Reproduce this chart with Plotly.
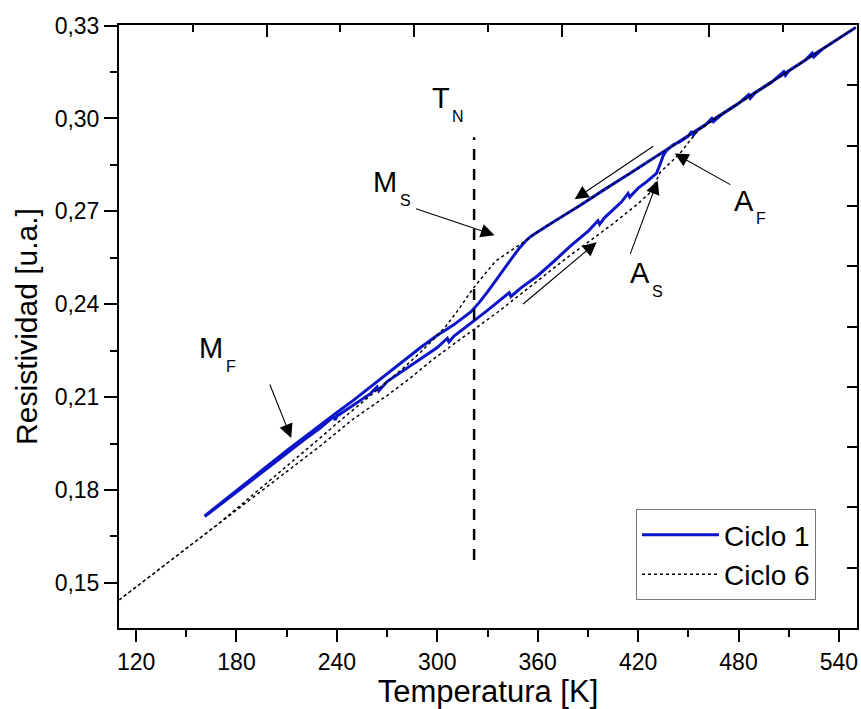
import plotly.graph_objects as go

# ---------------- data ----------------
# Ciclo 1 : heating branch (lower), then common part up to 550 K
c1_heat_T = [161, 170, 180, 190, 200, 210, 220, 230, 238, 239, 240, 250, 260, 264, 265, 270,
             280, 290, 300, 306, 307, 310, 321, 330, 343, 344, 350, 360, 370, 380, 390, 396,
             397, 400, 410, 414, 415, 420, 425, 431, 433, 435, 437, 441, 445, 450, 452, 453,
             455, 460, 464, 465, 470, 480, 486, 487, 490, 500, 507, 508, 510, 520,
             524, 525, 530, 540, 550]
c1_heat_R = [0.1714, 0.1752, 0.1794, 0.1836, 0.1877, 0.1918, 0.1960, 0.2000, 0.2037, 0.2026,
             0.2038, 0.2075, 0.2111, 0.2133, 0.2120, 0.2150, 0.2187, 0.2222, 0.2260, 0.2290,
             0.2278, 0.2297, 0.2342, 0.2380, 0.2437, 0.2425, 0.2453, 0.2492, 0.2540, 0.2590,
             0.2635, 0.2670, 0.2658, 0.2680, 0.2730, 0.2758, 0.2746, 0.2775, 0.2795, 0.2823,
             0.2850, 0.2880, 0.2897, 0.2915, 0.2925, 0.2943, 0.2958, 0.2946, 0.2960, 0.2978,
             0.3000, 0.2990, 0.3013, 0.3048, 0.3077, 0.3065, 0.3083, 0.3118, 0.3151,
             0.3139, 0.3153, 0.3189, 0.3211, 0.3199, 0.3224, 0.3259, 0.3294]
# Ciclo 1 : cooling branch (upper)
c1_cool_T = [550, 500, 445, 430, 415, 400, 385, 370, 361, 356, 353, 349, 345, 340, 335, 330,
             325, 320, 315, 310, 305, 300, 290, 280, 270, 260, 250, 240, 230, 220, 210, 200,
             190, 180, 170, 161]
c1_cool_R = [0.3294, 0.3118, 0.2925, 0.2874, 0.2822, 0.2771, 0.2718, 0.2668, 0.2638, 0.2620,
             0.2605, 0.2581, 0.2552, 0.2516, 0.2477, 0.2440, 0.2405, 0.2375, 0.2353, 0.2334,
             0.2317, 0.2300, 0.2260, 0.2217, 0.2174, 0.2132, 0.2090, 0.2050, 0.2010, 0.1970,
             0.1927, 0.1884, 0.1841, 0.1798, 0.1755, 0.1716]

# Ciclo 6 : heating branch
c6_heat_T = [110, 130, 150, 170, 190, 210, 230, 250, 270, 284, 297, 310, 323, 336, 349, 363,
             377, 390, 405, 420, 428, 433, 440, 445, 451, 456, 470, 490, 510, 530, 550]
c6_heat_R = [0.1445, 0.1528, 0.1611, 0.1694, 0.1777, 0.1860, 0.1942, 0.2030, 0.2105, 0.2162,
             0.2220, 0.2272, 0.2323, 0.2374, 0.2429, 0.2490, 0.2548, 0.2600, 0.2660, 0.2725,
             0.2765, 0.2825, 0.2860, 0.2887, 0.2929, 0.2962, 0.3013, 0.3083, 0.3153, 0.3224,
             0.3294]
# Ciclo 6 : cooling branch
c6_cool_T = [550, 500, 445, 430, 415, 400, 385, 370, 361, 353, 345, 335, 328, 321, 313, 305,
             298, 290, 280, 270, 260, 250, 240, 230, 220, 210, 200, 190, 180, 170, 150, 130, 110]
c6_cool_R = [0.3294, 0.3118, 0.2925, 0.2874, 0.2822, 0.2771, 0.2718, 0.2668, 0.2638, 0.2606,
             0.2576, 0.2540, 0.2495, 0.2448, 0.2385, 0.2328, 0.2288, 0.2245, 0.2195, 0.2150,
             0.2105, 0.2062, 0.2015, 0.1968, 0.1922, 0.1876, 0.1830, 0.1784, 0.1740, 0.1694,
             0.1611, 0.1528, 0.1445]

# Néel temperature marker
TN = 322
TN_R = [0.1574, 0.2939]

x_ticks = [120, 180, 240, 300, 360, 420, 480, 540]
x_labels = ["120", "180", "240", "300", "360", "420", "480", "540"]
x_minor = [150, 210, 270, 330, 390, 450, 510]
y_ticks = [0.15, 0.18, 0.21, 0.24, 0.27, 0.30, 0.33]
y_labels = ["0,15", "0,18", "0,21", "0,24", "0,27", "0,30", "0,33"]
y_minor = [0.165, 0.195, 0.225, 0.255, 0.285, 0.315]

series_names = ["Ciclo 1", "Ciclo 6"]

# ---------------- figure ----------------
FONT = "Arial, 'Liberation Sans', sans-serif"
BLUE = "rgb(12,22,200)"

fig = go.Figure()

fig.add_trace(go.Scatter(
    x=c1_heat_T + c1_cool_T, y=c1_heat_R + c1_cool_R, mode="lines",
    name=series_names[0], line=dict(color=BLUE, width=3)))
fig.add_trace(go.Scatter(
    x=c6_heat_T + c6_cool_T, y=c6_heat_R + c6_cool_R, mode="lines",
    name=series_names[1], line=dict(color="black", width=1.5, dash="dot")))
fig.add_trace(go.Scatter(
    x=[TN, TN], y=TN_R, mode="lines", showlegend=False,
    line=dict(color="black", width=2.5, dash="11px,9px")))
# empty trace to activate the decorative top/right axes
fig.add_trace(go.Scatter(x=[None], y=[None], xaxis="x2", yaxis="y2",
                         showlegend=False, hoverinfo="skip"))

# labels with subscripts: main letter (right edge x, centre y), subscript (left edge x, centre y)
labels = [
    ("T", "N", (307.9, 0.3066), (308.3, 0.3006)),
    ("M", "S", (276.8, 0.2794), (277.2, 0.2735)),
    ("M", "F", (172.6, 0.2258), (173.0, 0.2200)),
    ("A", "S", (427.5, 0.2502), (427.9, 0.2442)),
    ("A", "F", (489.7, 0.2732), (490.1, 0.2677)),
]
annotations = []
for main, sub, p1, p2 in labels:
    annotations.append(dict(x=p1[0], y=p1[1], text=main, showarrow=False, borderpad=0,
                            font=dict(family=FONT, size=29, color="black"),
                            xanchor="right", yanchor="middle"))
    annotations.append(dict(x=p2[0], y=p2[1], text=sub, showarrow=False, borderpad=0,
                            font=dict(family=FONT, size=16, color="black"),
                            xanchor="left", yanchor="middle"))

# arrows: head position (data) and tail offset (px)
arrows = [
    (334.2, 0.2623, -80, -27),
    (212.7, 0.1968, -22, -55),
    (431.7, 0.2800, -28, 75),
    (441.9, 0.2887, 57, 32),
    (382.1, 0.2739, 80, -54),
    (395.2, 0.2600, -75, 63),
]
for hx, hy, ax, ay in arrows:
    annotations.append(dict(x=hx, y=hy, ax=ax, ay=ay, text="", showarrow=True,
                            arrowhead=2, arrowsize=2.5, arrowwidth=1.1,
                            arrowcolor="black"))

fig.update_layout(
    width=861, height=709,
    margin=dict(l=119, r=4, t=25, b=81),
    paper_bgcolor="white", plot_bgcolor="white",
    separators=",.",
    font=dict(family=FONT, size=23, color="black"),
    showlegend=True,
    legend=dict(x=0.7005, y=0.1973, xanchor="left", yanchor="top",
                bgcolor="white", bordercolor="#777777", borderwidth=1,
                font=dict(family=FONT, size=28, color="black"),
                itemwidth=77, tracegroupgap=0),
    annotations=annotations,
    xaxis=dict(range=[109.8, 550.8], showgrid=False, zeroline=False,
               showline=True, linecolor="black", linewidth=2,
               ticks="outside", ticklen=12, tickwidth=2, tickcolor="black",
               tickmode="array", tickvals=x_ticks, ticktext=x_labels,
               tickfont=dict(size=23),
               minor=dict(tickmode="array", tickvals=x_minor, ticks="outside",
                          ticklen=7, tickwidth=2, tickcolor="black"),
               title=dict(text="Temperatura [K]", font=dict(size=31), standoff=7)),
    yaxis=dict(range=[0.1354, 0.3302], showgrid=False, zeroline=False,
               showline=True, linecolor="black", linewidth=2,
               ticks="outside", ticklen=13, tickwidth=2, tickcolor="black",
               tickmode="array", tickvals=y_ticks, ticktext=y_labels,
               tickfont=dict(size=23),
               minor=dict(tickmode="array", tickvals=y_minor, ticks="outside",
                          ticklen=7, tickwidth=2, tickcolor="black"),
               title=dict(text="Resistividad [u.a.]", font=dict(size=30), standoff=8)),
    xaxis2=dict(overlaying="x", side="top", anchor="y", range=[0, 10],
                showgrid=False, zeroline=False, showticklabels=False,
                showline=True, linecolor="black", linewidth=2,
                ticks="inside", ticklen=12, tickwidth=2, tickcolor="black",
                tickmode="array", tickvals=[2, 4, 6, 8],
                minor=dict(tickmode="array", tickvals=[1, 3, 5, 7, 9], ticks="inside",
                           ticklen=7, tickwidth=2, tickcolor="black")),
    yaxis2=dict(overlaying="y", side="right", anchor="x", range=[0, 10],
                showgrid=False, zeroline=False, showticklabels=False,
                showline=True, linecolor="black", linewidth=2,
                ticks="inside", ticklen=10, tickwidth=2, tickcolor="black",
                tickmode="array", tickvals=[1, 2, 3, 4, 5, 6, 7, 8, 9]),
)

fig.write_html("out.html")
